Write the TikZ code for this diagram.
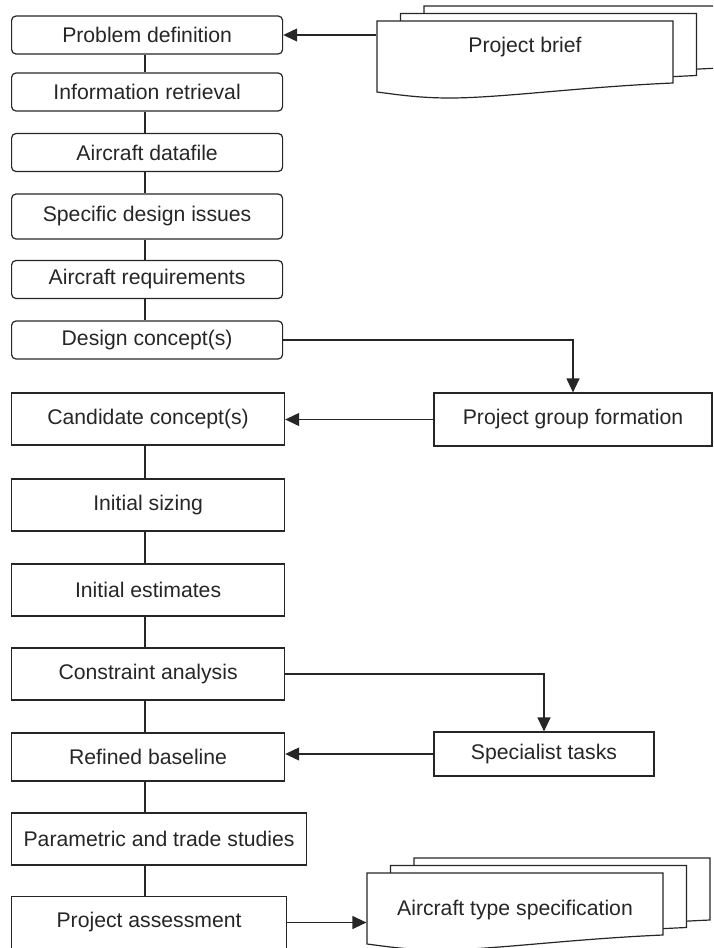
\documentclass[tikz,border=0pt]{standalone}
\usepackage{fontspec}
\setmainfont{Liberation Sans}
\usetikzlibrary{arrows.meta,calc}

\begin{document}
\begin{tikzpicture}[
  x=0.5pt, y=-0.5pt,
  font=\fontsize{10.6}{12}\selectfont, text=black!85,
  >={Triangle[length=7pt,width=6.5pt]}, line width=0.6pt,
  roundBox/.style={draw=black!85, rounded corners=2.2pt, anchor=west,
               minimum width=135.5pt, minimum height=19pt},
  sqBox/.style={draw=black!85, anchor=west,
               minimum width=136.5pt, minimum height=26pt},
  sideBox/.style={draw=black!85, minimum height=22pt},
  docPage/.style={draw=black!85, fill=white},
  docText/.style={minimum width=148pt, minimum height=20pt},
  link/.style={draw=black!85},
  arr/.style={->, draw=black!85},
]
\useasboundingbox (0,0) rectangle (713,948);
\clip (0,0) rectangle (713,948);

% main column
\node[roundBox] (prob) at (11,35) {Problem definition};
\node[roundBox] (info) at (11,92) {Information retrieval};
\node[roundBox] (data) at (11,152.5) {Aircraft datafile};
\node[roundBox, minimum height=22.5pt] (issues) at (11,216.5) {Specific design issues};
\node[roundBox] (reqs) at (11,279.5) {Aircraft requirements};
\node[roundBox] (concept) at (11,340) {Design concept(s)};
\node[sqBox] (cand) at (11,419) {Candidate concept(s)};
\node[sqBox] (sizing) at (11,505) {Initial sizing};
\node[sqBox] (estim) at (11,590) {Initial estimates};
\node[sqBox] (constr) at (11,674) {Constraint analysis};
\node[sqBox, minimum height=24pt] (refined) at (11,757) {Refined baseline};
\node[sqBox, minimum width=147.5pt] (trade) at (11,839) {Parametric and trade studies};
\node[sqBox, minimum width=137.5pt] (assess) at (11,922.5) {Project assessment};

% side boxes
\node[sideBox, minimum width=139pt, minimum height=26.5pt] (group) at (573,419.5) {Project group formation};
\node[sideBox, minimum width=110pt] (spec) at (544,754) {Specialist tasks};

% document stacks
\foreach \ox/\oy in {377/21, 367/873}
  \foreach \k in {2,1,0}
    \draw[docPage, shift={({\ox+23.5*\k},{\oy-7.5*\k})}]
      (0,0) -- (296,0) -- (296,62) .. controls (203,66) and (123,77) .. (73,77)
      .. controls (43,77) and (23,74) .. (0,71) -- cycle;
\node[docText] (brief) at (525,47) {Project brief};
\node[docText] (typespec) at (515,910) {Aircraft type specification};

% connectors
\coordinate (spine) at (145,0);
\foreach \a/\b in {prob/info, info/data, data/issues, issues/reqs, reqs/concept,
                   cand/sizing, sizing/estim, estim/constr, constr/refined,
                   refined/trade, trade/assess}
  \draw[link] (spine |- \a.south) -- (spine |- \b.north);

\draw[arr] (brief.west |- prob.east) -- (prob.east);
\draw[arr] (concept.east) -| (group.north);
\draw[arr] (group.west) -- (group.west -| cand.east);
\draw[arr] (constr.east) -| (spec.north);
\draw[arr] (spec.west) -- (spec.west -| refined.east);
\draw[arr] (assess.east) -- (assess.east -| typespec.west);
\end{tikzpicture}
\end{document}
